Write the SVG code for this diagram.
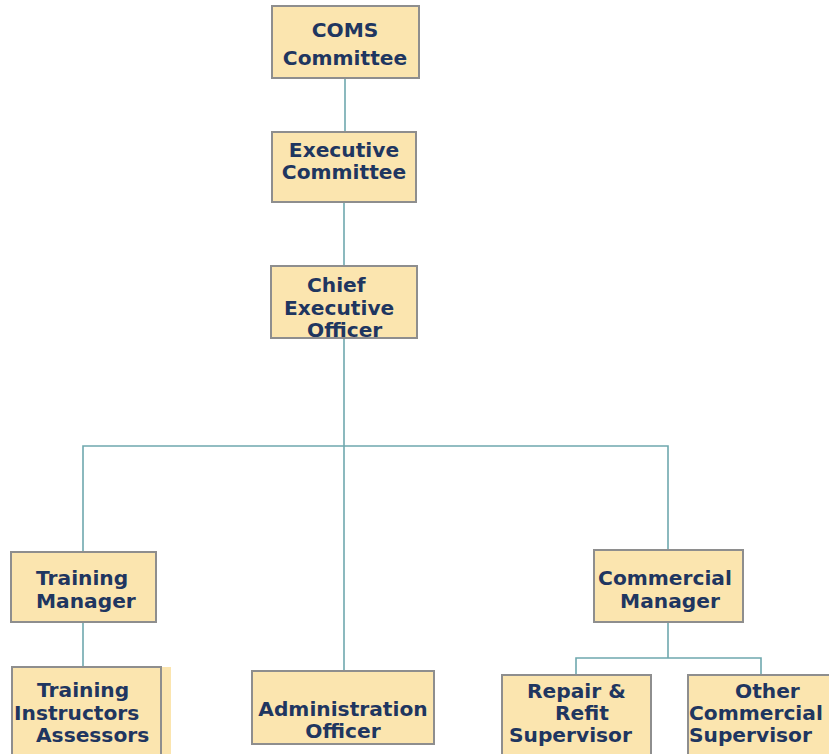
<svg xmlns="http://www.w3.org/2000/svg" width="829" height="754" viewBox="0 0 829 754">
<style>
.box{fill:#FBE5AF;stroke:#8E8E8E;stroke-width:2}
.bg{fill:#FBE5AF}
.t{font-family:"DejaVu Sans","Verdana",sans-serif;font-weight:bold;font-size:20.2px;fill:#1F3660}
.c{fill:none;stroke:#6FA8AE;stroke-width:1.6}
</style>
<rect width="829" height="754" fill="#ffffff"/>
<g id="connectors">
<line class="c" x1="345" y1="78" x2="345" y2="132"/>
<line class="c" x1="344" y1="202" x2="344" y2="266"/>
<line class="c" x1="344" y1="338" x2="344" y2="671"/>
<polyline class="c" points="83,552 83,446 668,446 668,550"/>
<line class="c" x1="83" y1="622" x2="83" y2="667"/>
<line class="c" x1="668" y1="622" x2="668" y2="658"/>
<polyline class="c" points="576,675 576,658 761,658 761,675"/>
</g>
<g id="coms">
<rect class="box" x="272" y="6" width="147" height="72"/>
<text class="t" x="345" y="37" text-anchor="middle">COMS</text>
<text class="t" x="345" y="65" text-anchor="middle">Committee</text>
</g>
<g id="exec">
<rect class="box" x="272" y="132" width="144" height="70"/>
<text class="t" x="344" y="157" text-anchor="middle">Executive</text>
<text class="t" x="344" y="179" text-anchor="middle">Committee</text>
</g>
<g id="ceo">
<rect class="box" x="271" y="266" width="146" height="72"/>
<text class="t" x="307" y="292">Chief</text>
<text class="t" x="284" y="315">Executive</text>
<text class="t" x="307" y="337">Officer</text>
</g>
<g id="training-manager">
<rect class="box" x="11" y="552" width="145" height="70"/>
<text class="t" x="36" y="585">Training</text>
<text class="t" x="36" y="608">Manager</text>
</g>
<g id="training-instructors">
<rect class="bg" x="12" y="667" width="159" height="90"/>
<rect class="box" x="12" y="667" width="149" height="90"/>
<text class="t" x="37" y="697">Training</text>
<text class="t" x="14" y="720">Instructors</text>
<text class="t" x="36" y="742">Assessors</text>
</g>
<g id="admin">
<rect class="box" x="252" y="671" width="182" height="73"/>
<text class="t" x="343" y="716" text-anchor="middle">Administration</text>
<text class="t" x="343" y="738" text-anchor="middle">Officer</text>
</g>
<g id="commercial-manager">
<rect class="box" x="594" y="550" width="149" height="72"/>
<text class="t" x="665" y="585" text-anchor="middle">Commercial</text>
<text class="t" x="670" y="608" text-anchor="middle">Manager</text>
</g>
<g id="repair">
<rect class="box" x="502" y="675" width="149" height="82"/>
<text class="t" x="527" y="698">Repair &amp;</text>
<text class="t" x="555" y="720">Refit</text>
<text class="t" x="509" y="742">Supervisor</text>
</g>
<g id="other">
<rect class="box" x="688" y="675" width="150" height="82"/>
<text class="t" x="735" y="698">Other</text>
<text class="t" x="689" y="720">Commercial</text>
<text class="t" x="689" y="742">Supervisor</text>
</g>
</svg>
